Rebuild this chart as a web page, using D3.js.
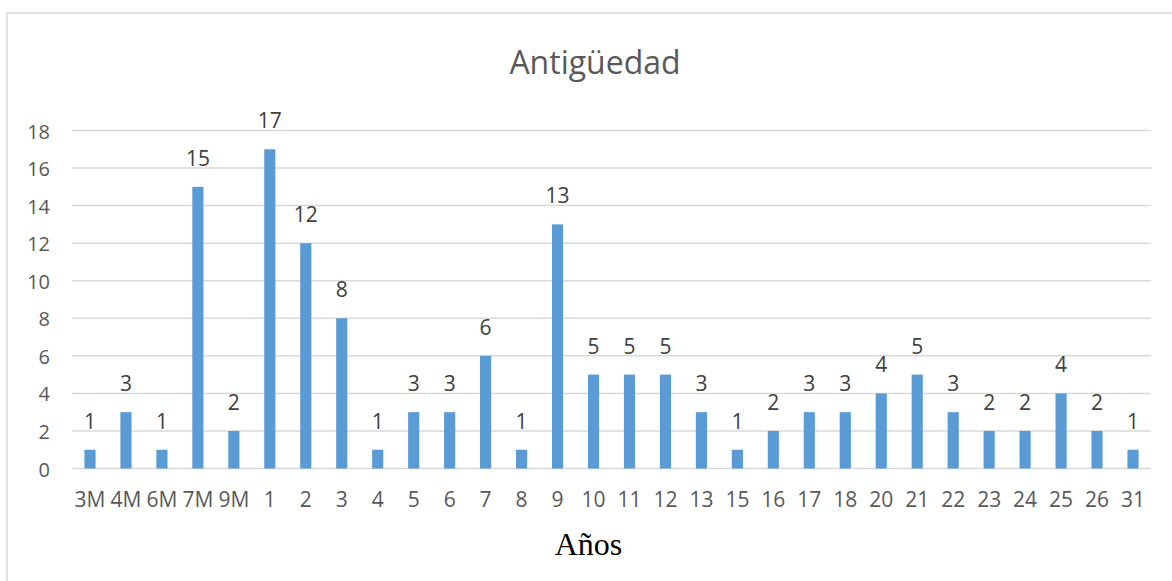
<!DOCTYPE html>
<html><head><meta charset="utf-8">
<script src="https://cdn.jsdelivr.net/npm/d3@7"></script>
<style>body{margin:0;background:#fff;} svg{display:block;}</style>
</head><body>
<svg id="c" width="1172" height="581"></svg>
<script>
const categories = ["3M","4M","6M","7M","9M","1","2","3","4","5","6","7","8","9","10","11","12","13","15","16","17","18","20","21","22","23","24","25","26","31"];
const values = [1,3,1,15,2,17,12,8,1,3,3,6,1,13,5,5,5,3,1,2,3,3,4,5,3,2,2,4,2,1];
const yTicks = [0,2,4,6,8,10,12,14,16,18];
const title = "Antigüedad";
const xTitle = "Años";

const svg = d3.select("#c");
const font = "'Open Sans', sans-serif";
const m = {left:72, right:1151, top:130.5, bottom:468.5};

svg.append("rect").attr("x",7).attr("y",13).attr("width",1180).attr("height",600)
  .attr("fill","#fff").attr("stroke","#d9d9d9").attr("stroke-width",1.5);

const x = d3.scaleBand().domain(categories).range([m.left,m.right]).paddingInner(0.69).paddingOuter(0.345);
const y = d3.scaleLinear().domain([0,18]).range([m.bottom,m.top]);

const grid = svg.append("g");
grid.selectAll("line").data(yTicks).join("line")
  .attr("x1",m.left).attr("x2",m.right)
  .attr("y1",d=>y(d)).attr("y2",d=>y(d))
  .attr("stroke","#d9d9d9").attr("stroke-width",1.5);

const yAxis = svg.append("g").attr("transform",`translate(${m.left},0)`)
  .call(d3.axisLeft(y).tickValues(yTicks).tickSize(0).tickPadding(22));
yAxis.select(".domain").remove();
yAxis.selectAll("text").attr("font-family",font).attr("font-size",20).attr("fill","#595959").attr("dy","0.38em");

const xAxis = svg.append("g").attr("transform",`translate(0,${m.bottom})`)
  .call(d3.axisBottom(x).tickSize(0));
xAxis.select(".domain").remove();
xAxis.selectAll("text").attr("font-family",font).attr("font-size",21).attr("fill","#595959")
  .attr("y",38.5).attr("dy",0);

svg.append("g").selectAll("text").data(values).join("text")
  .attr("x",(d,i)=>x(categories[i])+x.bandwidth()/2)
  .attr("y",d=>y(d)-21)
  .attr("text-anchor","middle")
  .attr("font-family",font).attr("font-size",21).attr("fill","#404040")
  .text(d=>d);

svg.append("g").selectAll("rect").data(values).join("rect")
  .attr("x",(d,i)=>x(categories[i])).attr("width",x.bandwidth())
  .attr("y",d=>y(d)).attr("height",d=>y(0)-y(d))
  .attr("fill","#5b9bd5");

svg.append("text").attr("x",595).attr("y",73.5).attr("text-anchor","middle")
  .attr("font-family",font).attr("font-size",32).attr("fill","#595959").text(title);

svg.append("text").attr("x",588.5).attr("y",555).attr("text-anchor","middle")
  .attr("font-family","'Liberation Serif','Times New Roman',serif").attr("font-size",32).attr("fill","#000").text(xTitle);
</script>
</body></html>
